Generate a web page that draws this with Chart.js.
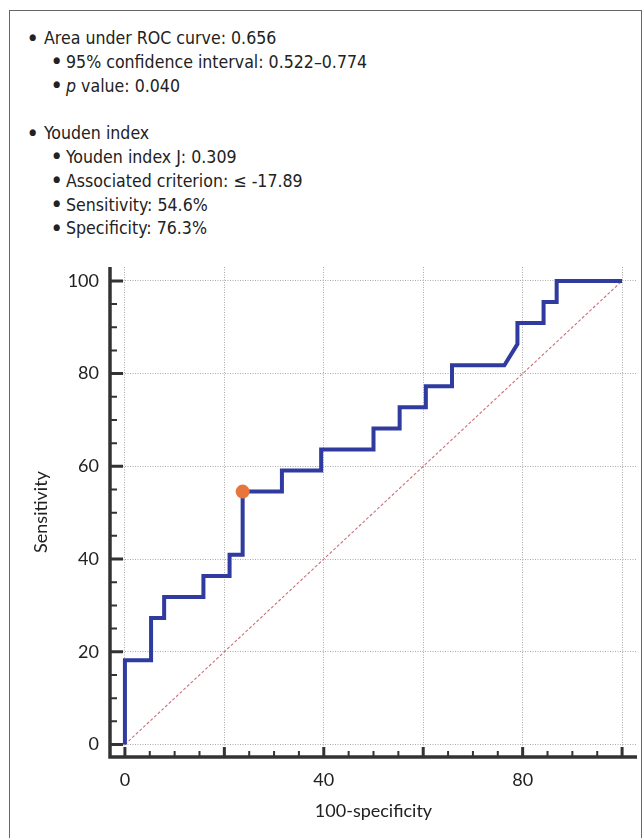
<!DOCTYPE html>
<html>
<head>
<meta charset="utf-8">
<script src="https://cdn.jsdelivr.net/npm/chart.js@4.4.0/dist/chart.umd.min.js"></script>
<style>
  html, body { margin: 0; padding: 0; background: #fff; }
  #wrap { position: relative; width: 644px; height: 838px; overflow: hidden; }
  #frame { position: absolute; left: 9px; top: 10px; width: 631px; height: 900px;
           border: 1.5px solid #666; border-bottom: none; }
  #notes { position: absolute; left: 0; top: 27px; font-family: "Liberation Sans Narrow", "DejaVu Sans Condensed", sans-serif;
           font-size: 17.6px; line-height: 23.8px; color: #222; }
  .l1, .l2 { position: relative; white-space: nowrap; }
  .l1 { padding-left: 44px; }
  .l2 { padding-left: 66px; }
  .l1::before, .l2::before { content: "\25CF"; position: absolute; font-size: 9px; top: -1.5px; }
  .l1::before { left: 29px; }
  .l2::before { left: 53px; }
  .gap { height: 23.8px; }
  canvas { position: absolute; left: 0; top: 0; }
</style>
</head>
<body>
<div id="wrap">
  <div id="frame"></div>
  <div id="notes">
    <div class="l1">Area under ROC curve: 0.656</div>
    <div class="l2">95% confidence interval: 0.522–0.774</div>
    <div class="l2"><i>p</i> value: 0.040</div>
    <div class="gap"></div>
    <div class="l1">Youden index</div>
    <div class="l2">Youden index J: 0.309</div>
    <div class="l2">Associated criterion: ≤ -17.89</div>
    <div class="l2">Sensitivity: 54.6%</div>
    <div class="l2">Specificity: 76.3%</div>
  </div>
  <canvas id="roc" width="644" height="838"></canvas>
</div>
<script>
// ROC curve steps (100-specificity, sensitivity)
const fpr = [0, 0, 5.26, 5.26, 7.89, 7.89, 15.79, 15.79, 21.05, 21.05, 23.68, 23.68,
  31.58, 31.58, 39.47, 39.47, 50.0, 50.0, 55.26, 55.26, 60.53, 60.53, 65.79, 65.79,
  76.32, 78.95, 78.95, 84.21, 84.21, 86.84, 86.84, 100];
const tpr = [0, 18.18, 18.18, 27.27, 27.27, 31.82, 31.82, 36.36, 36.36, 40.91, 40.91, 54.55,
  54.55, 59.09, 59.09, 63.64, 63.64, 68.18, 68.18, 72.73, 72.73, 77.27, 77.27, 81.82,
  81.82, 86.36, 90.91, 90.91, 95.45, 95.45, 100, 100];
const diagX = [0, 100];
const diagY = [0, 100];
const youdenX = [23.68];
const youdenY = [54.55];
const xTicks = [0, 20, 40, 60, 80, 100];
const xLabels = ['0', '', '40', '', '80', ''];
const yTicks = [0, 20, 40, 60, 80, 100];

const pts = (xs, ys) => xs.map((x, i) => ({ x: x, y: ys[i] }));

const axisPlugin = {
  id: 'axisPlugin',
  afterDraw(chart) {
    const ctx = chart.ctx;
    const a = chart.chartArea;
    const xs = chart.scales.x, ys = chart.scales.y;
    ctx.save();
    ctx.strokeStyle = '#333';
    ctx.lineCap = 'butt';
    ctx.lineWidth = 3.5;
    ctx.beginPath();
    ctx.moveTo(a.left, a.top);
    ctx.lineTo(a.left, a.bottom + 1.5);
    ctx.moveTo(a.left - 1.5, a.bottom);
    ctx.lineTo(a.right, a.bottom);
    ctx.stroke();
    for (let v = 0; v <= 100; v += 5) {
      const major = v % 20 === 0;
      ctx.lineWidth = major ? 3 : 2;
      const py = ys.getPixelForValue(v);
      const px = xs.getPixelForValue(v);
      ctx.beginPath();
      ctx.moveTo(a.left, py);
      ctx.lineTo(a.left + (major ? 13 : 7), py);
      ctx.moveTo(px, a.bottom);
      ctx.lineTo(px, a.bottom - (major ? 10 : 6));
      ctx.stroke();
    }
    ctx.restore();
  }
};

new Chart(document.getElementById('roc').getContext('2d'), {
  type: 'scatter',
  data: {
    datasets: [
      {
        data: pts(youdenX, youdenY),
        pointRadius: 7,
        pointBackgroundColor: '#e8763c',
        pointBorderWidth: 0,
        showLine: false
      },
      {
        data: pts(fpr, tpr),
        showLine: true,
        borderColor: '#2f3b9e',
        borderWidth: 4,
        borderJoinStyle: 'miter',
        pointRadius: 0,
        tension: 0
      },
      {
        data: pts(diagX, diagY),
        showLine: true,
        borderColor: '#cc6f78',
        borderWidth: 1.1,
        borderDash: [3, 2],
        pointRadius: 0
      }
    ]
  },
  plugins: [axisPlugin],
  options: {
    responsive: false,
    animation: false,
    events: [],
    layout: { padding: { left: 0, top: 267, right: 7, bottom: 0 } },
    plugins: { legend: { display: false }, tooltip: { enabled: false } },
    scales: {
      x: {
        type: 'linear',
        min: -3,
        max: 103,
        afterBuildTicks: s => { s.ticks = xTicks.map(v => ({ value: v })); },
        afterFit: s => { s.height = 81; },
        ticks: {
          callback: (v, i) => xLabels[i],
          padding: 12,
          color: '#222',
          font: { family: 'Lato', size: 18 }
        },
        grid: { color: '#aaaaaa', lineWidth: 1, drawTicks: false },
        border: { display: false, dash: [1, 1.5] },
        title: {
          display: true,
          text: '100-specificity',
          color: '#222',
          font: { family: 'Lato', size: 18 },
          padding: { top: 0, bottom: 16 }
        }
      },
      y: {
        type: 'linear',
        min: -2.7,
        max: 103,
        afterBuildTicks: s => { s.ticks = yTicks.map(v => ({ value: v })); },
        afterFit: s => { s.width = 110; },
        ticks: {
          padding: 11,
          color: '#222',
          font: { family: 'Lato', size: 18 }
        },
        grid: { color: '#aaaaaa', lineWidth: 1, drawTicks: false },
        border: { display: false, dash: [1, 1.5] },
        title: {
          display: true,
          text: 'Sensitivity',
          color: '#222',
          font: { family: 'Lato', size: 18 },
          padding: { top: 30, bottom: 0 }
        }
      }
    }
  }
});
</script>
</body>
</html>
